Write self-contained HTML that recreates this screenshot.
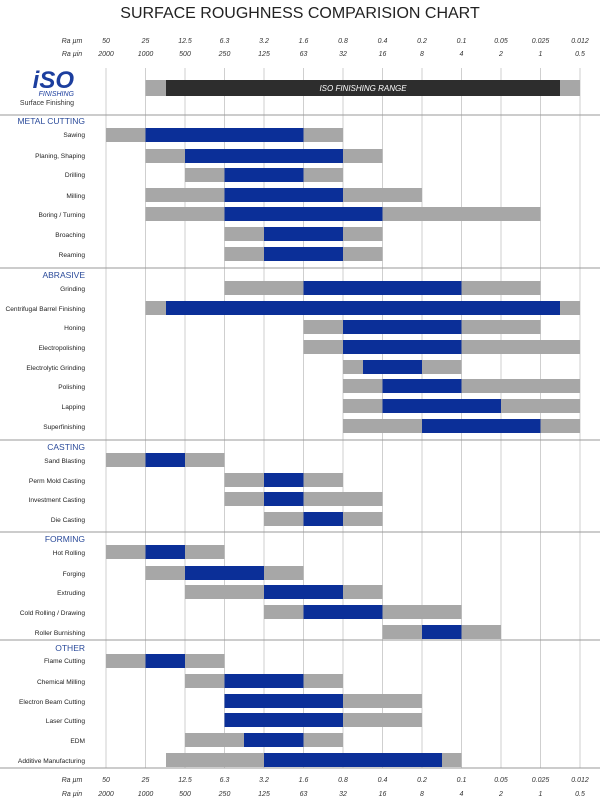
<!DOCTYPE html>
<html><head><meta charset="utf-8"><style>
body{margin:0;background:#fff}
svg{display:block;font-family:"Liberation Sans",sans-serif}
.l{font-size:6.6px;fill:#222;text-anchor:end}
.h{font-size:8.5px;fill:#2a4a9a;text-anchor:end}
.t{font-size:7px;fill:#333;text-anchor:middle;font-style:italic}
.g{fill:#a7a7a7}.b{fill:#0b2f98}
</style></head><body>
<svg width="600" height="800" viewBox="0 0 600 800">
<text x="300" y="18" text-anchor="middle" font-size="16" fill="#222">SURFACE ROUGHNESS COMPARISION CHART</text>
<g stroke="#cfcfcf" stroke-width="1">
<line x1="106" y1="68" x2="106" y2="768"/><line x1="145.5" y1="68" x2="145.5" y2="768"/><line x1="185" y1="68" x2="185" y2="768"/><line x1="224.5" y1="68" x2="224.5" y2="768"/><line x1="264" y1="68" x2="264" y2="768"/><line x1="303.5" y1="68" x2="303.5" y2="768"/><line x1="343" y1="68" x2="343" y2="768"/><line x1="382.5" y1="68" x2="382.5" y2="768"/><line x1="422" y1="68" x2="422" y2="768"/><line x1="461.5" y1="68" x2="461.5" y2="768"/><line x1="501" y1="68" x2="501" y2="768"/><line x1="540.5" y1="68" x2="540.5" y2="768"/><line x1="580" y1="68" x2="580" y2="768"/>
</g>
<g stroke="#999" stroke-width="1">
<line x1="0" y1="115" x2="600" y2="115"/><line x1="0" y1="268" x2="600" y2="268"/><line x1="0" y1="440" x2="600" y2="440"/><line x1="0" y1="532" x2="600" y2="532"/><line x1="0" y1="640" x2="600" y2="640"/><line x1="0" y1="768" x2="600" y2="768"/>
</g>
<g class="t">
<text x="72" y="43">Ra µm</text><text x="72" y="56">Ra µin</text>
<text x="106" y="43">50</text><text x="145.5" y="43">25</text><text x="185" y="43">12.5</text><text x="224.5" y="43">6.3</text><text x="264" y="43">3.2</text><text x="303.5" y="43">1.6</text><text x="343" y="43">0.8</text><text x="382.5" y="43">0.4</text><text x="422" y="43">0.2</text><text x="461.5" y="43">0.1</text><text x="501" y="43">0.05</text><text x="540.5" y="43">0.025</text><text x="580" y="43">0.012</text>
<text x="106" y="56">2000</text><text x="145.5" y="56">1000</text><text x="185" y="56">500</text><text x="224.5" y="56">250</text><text x="264" y="56">125</text><text x="303.5" y="56">63</text><text x="343" y="56">32</text><text x="382.5" y="56">16</text><text x="422" y="56">8</text><text x="461.5" y="56">4</text><text x="501" y="56">2</text><text x="540.5" y="56">1</text><text x="580" y="56">0.5</text>
<text x="72" y="782">Ra µm</text><text x="72" y="796">Ra µin</text>
<text x="106" y="782">50</text><text x="145.5" y="782">25</text><text x="185" y="782">12.5</text><text x="224.5" y="782">6.3</text><text x="264" y="782">3.2</text><text x="303.5" y="782">1.6</text><text x="343" y="782">0.8</text><text x="382.5" y="782">0.4</text><text x="422" y="782">0.2</text><text x="461.5" y="782">0.1</text><text x="501" y="782">0.05</text><text x="540.5" y="782">0.025</text><text x="580" y="782">0.012</text>
<text x="106" y="796">2000</text><text x="145.5" y="796">1000</text><text x="185" y="796">500</text><text x="224.5" y="796">250</text><text x="264" y="796">125</text><text x="303.5" y="796">63</text><text x="343" y="796">32</text><text x="382.5" y="796">16</text><text x="422" y="796">8</text><text x="461.5" y="796">4</text><text x="501" y="796">2</text><text x="540.5" y="796">1</text><text x="580" y="796">0.5</text>
</g>
<text x="74" y="88" text-anchor="end" font-size="24" font-weight="bold" font-style="italic" fill="#1c3e9e">iSO</text>
<text x="74" y="96" text-anchor="end" font-size="7" font-style="italic" fill="#1c3e9e">FINISHING</text>
<text x="74" y="105" text-anchor="end" font-size="7" fill="#333">Surface Finishing</text>
<rect class="g" x="145.5" y="80" width="434.5" height="16"/>
<rect x="166" y="80" width="394" height="16" fill="#2d2d2d"/>
<text x="363" y="91" text-anchor="middle" font-size="8" font-style="italic" fill="#fff">ISO FINISHING RANGE</text>

<text class="h" x="85" y="124">METAL CUTTING</text>
<text class="l" x="85" y="137">Sawing</text><rect class="g" x="106" y="128" width="237" height="14"/><rect class="b" x="145.5" y="128" width="158" height="14"/>
<text class="l" x="85" y="158">Planing, Shaping</text><rect class="g" x="145.5" y="149" width="237" height="14"/><rect class="b" x="185" y="149" width="158" height="14"/>
<text class="l" x="85" y="177">Drilling</text><rect class="g" x="185" y="168" width="158" height="14"/><rect class="b" x="224.5" y="168" width="79" height="14"/>
<text class="l" x="85" y="198">Milling</text><rect class="g" x="145.5" y="188" width="276.5" height="14"/><rect class="b" x="224.5" y="188" width="118.5" height="14"/>
<text class="l" x="85" y="217">Boring / Turning</text><rect class="g" x="145.5" y="207" width="395" height="14"/><rect class="b" x="224.5" y="207" width="158" height="14"/>
<text class="l" x="85" y="237">Broaching</text><rect class="g" x="224.5" y="227" width="158" height="14"/><rect class="b" x="264" y="227" width="79" height="14"/>
<text class="l" x="85" y="257">Reaming</text><rect class="g" x="224.5" y="247" width="158" height="14"/><rect class="b" x="264" y="247" width="79" height="14"/>

<text class="h" x="85" y="278">ABRASIVE</text>
<text class="l" x="85" y="291">Grinding</text><rect class="g" x="224.5" y="281" width="316" height="14"/><rect class="b" x="303.5" y="281" width="158" height="14"/>
<text class="l" x="85" y="311">Centrifugal Barrel Finishing</text><rect class="g" x="145.5" y="301" width="434.5" height="14"/><rect class="b" x="166" y="301" width="394" height="14"/>
<text class="l" x="85" y="330">Honing</text><rect class="g" x="303.5" y="320" width="237" height="14"/><rect class="b" x="343" y="320" width="118.5" height="14"/>
<text class="l" x="85" y="350">Electropolishing</text><rect class="g" x="303.5" y="340" width="276.5" height="14"/><rect class="b" x="343" y="340" width="118.5" height="14"/>
<text class="l" x="85" y="370">Electrolytic Grinding</text><rect class="g" x="343" y="360" width="118.5" height="14"/><rect class="b" x="363" y="360" width="59" height="14"/>
<text class="l" x="85" y="389">Polishing</text><rect class="g" x="343" y="379" width="237" height="14"/><rect class="b" x="382.5" y="379" width="79" height="14"/>
<text class="l" x="85" y="409">Lapping</text><rect class="g" x="343" y="399" width="237" height="14"/><rect class="b" x="382.5" y="399" width="118.5" height="14"/>
<text class="l" x="85" y="429">Superfinishing</text><rect class="g" x="343" y="419" width="237" height="14"/><rect class="b" x="422" y="419" width="118.5" height="14"/>

<text class="h" x="85" y="450">CASTING</text>
<text class="l" x="85" y="463">Sand Blasting</text><rect class="g" x="106" y="453" width="118.5" height="14"/><rect class="b" x="145.5" y="453" width="39.5" height="14"/>
<text class="l" x="85" y="483">Perm Mold Casting</text><rect class="g" x="224.5" y="473" width="118.5" height="14"/><rect class="b" x="264" y="473" width="39.5" height="14"/>
<text class="l" x="85" y="502">Investment Casting</text><rect class="g" x="224.5" y="492" width="158" height="14"/><rect class="b" x="264" y="492" width="39.5" height="14"/>
<text class="l" x="85" y="522">Die Casting</text><rect class="g" x="264" y="512" width="118.5" height="14"/><rect class="b" x="303.5" y="512" width="39.5" height="14"/>

<text class="h" x="85" y="542">FORMING</text>
<text class="l" x="85" y="555">Hot Rolling</text><rect class="g" x="106" y="545" width="118.5" height="14"/><rect class="b" x="145.5" y="545" width="39.5" height="14"/>
<text class="l" x="85" y="576">Forging</text><rect class="g" x="145.5" y="566" width="158" height="14"/><rect class="b" x="185" y="566" width="79" height="14"/>
<text class="l" x="85" y="595">Extruding</text><rect class="g" x="185" y="585" width="197.5" height="14"/><rect class="b" x="264" y="585" width="79" height="14"/>
<text class="l" x="85" y="615">Cold Rolling / Drawing</text><rect class="g" x="264" y="605" width="197.5" height="14"/><rect class="b" x="303.5" y="605" width="79" height="14"/>
<text class="l" x="85" y="635">Roller Burnishing</text><rect class="g" x="382.5" y="625" width="118.5" height="14"/><rect class="b" x="422" y="625" width="39.5" height="14"/>

<text class="h" x="85" y="651">OTHER</text>
<text class="l" x="85" y="663">Flame Cutting</text><rect class="g" x="106" y="654" width="118.5" height="14"/><rect class="b" x="145.5" y="654" width="39.5" height="14"/>
<text class="l" x="85" y="684">Chemical Milling</text><rect class="g" x="185" y="674" width="158" height="14"/><rect class="b" x="224.5" y="674" width="79" height="14"/>
<text class="l" x="85" y="704">Electron Beam Cutting</text><rect class="g" x="224.5" y="694" width="197.5" height="14"/><rect class="b" x="224.5" y="694" width="118.5" height="14"/>
<text class="l" x="85" y="723">Laser Cutting</text><rect class="g" x="224.5" y="713" width="197.5" height="14"/><rect class="b" x="224.5" y="713" width="118.5" height="14"/>
<text class="l" x="85" y="743">EDM</text><rect class="g" x="185" y="733" width="158" height="14"/><rect class="b" x="244" y="733" width="59.5" height="14"/>
<text class="l" x="85" y="763">Additive Manufacturing</text><rect class="g" x="166" y="753" width="295.5" height="14"/><rect class="b" x="264" y="753" width="178" height="14"/>
</svg>
</body></html>
